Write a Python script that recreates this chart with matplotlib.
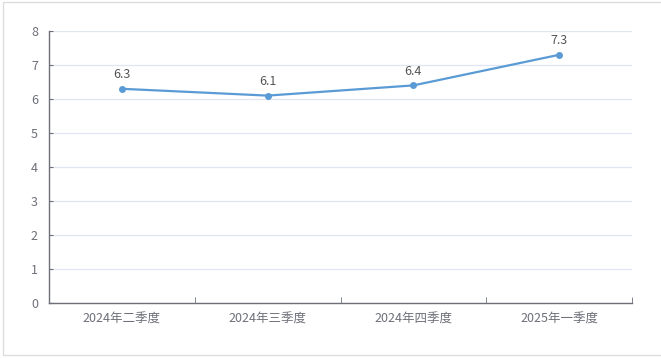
import matplotlib.pyplot as plt
from matplotlib.patches import Rectangle

plt.rcParams['font.family'] = ['Noto Sans CJK SC', 'DejaVu Sans']

# 数据
quarters = ['2024年二季度', '2024年三季度', '2024年四季度', '2025年一季度']
values = [6.3, 6.1, 6.4, 7.3]
yticks = [0, 1, 2, 3, 4, 5, 6, 7, 8]

axis_color = '#6E7079'
grid_color = '#E0E6F1'
line_color = '#5B9BD5'

fig = plt.figure(figsize=(6.61, 3.58), dpi=100)
ax = fig.add_axes([49/661, 1 - 303/358, 583/661, 272/358])

x = list(range(len(quarters)))
ax.plot(x, values, color=line_color, linewidth=1.6, marker='o', markersize=4,
        zorder=3, clip_on=False)
for xi, v in zip(x, values):
    ax.annotate(f'{v}', (xi, v), xytext=(0, 5.5), textcoords='offset points',
                ha='center', va='bottom', fontsize=9, color='#555555')

ax.set_xlim(-0.5, len(quarters) - 0.5)
ax.set_ylim(0, 8)
ax.set_yticks(yticks)
ax.set_xticks(x)
ax.set_xticklabels(quarters)
ax.set_xticks([i - 0.5 for i in range(len(quarters) + 1)], minor=True)

ax.grid(axis='y', color=grid_color, linewidth=0.9)
ax.set_axisbelow(True)
for s in ['top', 'right']:
    ax.spines[s].set_visible(False)
for s in ['left', 'bottom']:
    ax.spines[s].set_color(axis_color)
    ax.spines[s].set_linewidth(1)

ax.tick_params(axis='y', direction='in', length=3, color=axis_color,
               labelcolor=axis_color, labelsize=9, pad=8)
ax.tick_params(axis='x', which='major', length=0, labelcolor=axis_color,
               labelsize=9, pad=7)
ax.tick_params(axis='x', which='minor', direction='in', length=4,
               color=axis_color)

# 外框
fig.patches.append(Rectangle((3/661, 3/358), 1.2, 1 - 5/358,
                             transform=fig.transFigure, fill=False,
                             edgecolor='#DDDDDD', linewidth=1))

fig.savefig('out.png', dpi=100)
